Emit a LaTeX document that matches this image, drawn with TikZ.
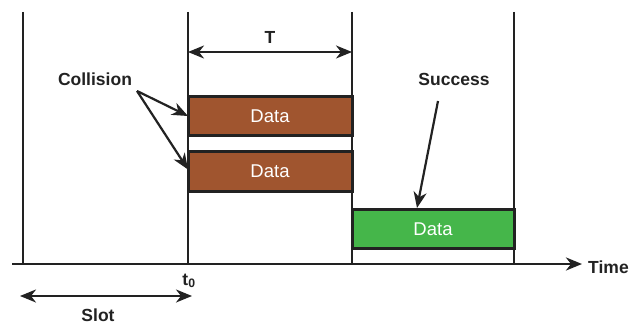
\documentclass[tikz,border=0pt]{standalone}
\usepackage{fontspec}
\setmainfont{Liberation Sans}
\usetikzlibrary{arrows.meta,calc}
\definecolor{linegray}{HTML}{222222}
\definecolor{brickred}{HTML}{A0552F}
\definecolor{okgreen}{HTML}{45B64A}
\tikzset{
  slotline/.style={draw=linegray, line width=2.4pt},
  databox/.style={draw=linegray, line width=3pt, minimum width=164pt, minimum height=39pt,
    text=white, font=\fontsize{18.5}{18.5}\selectfont, inner sep=0pt, outer sep=0pt,
    anchor=north west},
  lbl/.style={text=linegray, font=\bfseries\fontsize{17.5}{17.5}\selectfont, inner sep=0pt},
  head/.tip={Stealth[length=16pt,width=13pt,inset=5pt]},
  tip/.style={-head, draw=linegray, line width=2.2pt},
  dtip/.style={head-head, draw=linegray, line width=2.2pt}
}
\begin{document}
\begin{tikzpicture}[x=1pt,y=-1pt]
\useasboundingbox (0,0) rectangle (629,326);
\fill[white] (0,0) rectangle (629,326);

% slot boundaries
\coordinate (v0t) at (23,12);  \coordinate (v0b) at (23,264);
\coordinate (v1t) at (188,12); \coordinate (v1b) at (188,264);
\coordinate (v2t) at (352,12); \coordinate (v2b) at (352,264);
\coordinate (v3t) at (514,12); \coordinate (v3b) at (514,264);
\draw[slotline] (v0t) -- (v0b);
\draw[slotline] (v1t) -- (v1b);
\draw[slotline] (v2t) -- (v2b);
\draw[slotline] (v3t) -- (v3b);

% frames
\node[databox, fill=brickred] (b1) at (188,96.5) {Data};
\node[databox, fill=brickred] (b2) at (188,152) {Data};
\node[databox, fill=okgreen, minimum width=162pt] (g) at (352,209.5) {Data};

% time axis
\coordinate (ax0) at (12,264);
\coordinate (ax1) at (582,264);
\draw[tip, line width=2.8pt] (ax0) -- (ax1);
\node[lbl, anchor=west] (time) at (588,267) {Time};

% frame duration
\draw[dtip] (v1t |- 0,52) coordinate (ta) -- (v2t |- 0,52) coordinate (tb);
\node[lbl] (tlab) at (270,37) {T};

% collision
\node[lbl] (coll) at (95,79) {Collision};
\coordinate (cs) at (137,91);
\draw[tip] (cs) -- (b1.west);
\draw[tip] (cs) -- ($(b2.west)+(0,-2)$);

% success
\node[lbl] (succ) at (454,79) {Success};
\coordinate (ss) at (438,101);
\coordinate (se) at (417,208);
\draw[tip] (ss) -- (se);

% t0 and slot length
\node[lbl] (t0) at (189,281) {t\textsubscript{0}};
\coordinate (sa) at (20,296);
\coordinate (sb) at (192,296);
\draw[dtip] (sa) -- (sb);
\node[lbl] (slot) at (98,315) {Slot};
\end{tikzpicture}
\end{document}
